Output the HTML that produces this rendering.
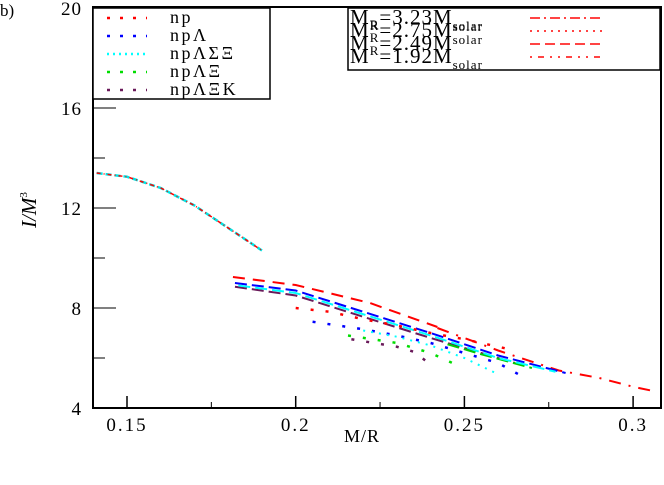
<!DOCTYPE html>
<html><head><meta charset="utf-8"><style>
body{margin:0;background:#fff}
svg{display:block;font-family:"Liberation Serif",serif}
</style></head><body>
<svg id="chart" width="664" height="485" viewBox="0 0 664 485" xmlns="http://www.w3.org/2000/svg">
<text x="0" y="16" font-size="17">b)</text>
<g id="plot"></g>
<rect x="93" y="7" width="568" height="401" fill="none" stroke="#000" stroke-width="2"/>
<g id="axes"></g>
<text x="362" y="442" font-size="18" letter-spacing="1" text-anchor="middle">M/R</text>
<text transform="translate(36,210) rotate(-90)" font-size="21" font-style="italic" text-anchor="middle">I/M<tspan font-size="11" dy="-9" font-style="normal">3</tspan></text>
<rect x="93" y="8" width="177" height="91" fill="#fff" stroke="#000" stroke-width="1.5"/>
<g id="legL"></g>
<rect x="348" y="8" width="312" height="62" fill="#fff" stroke="#000" stroke-width="1.5"/>
<g id="legR"></g>
</svg>
<script>
const NS="http://www.w3.org/2000/svg";
const xTicks=[0.15,0.2,0.25,0.3];
const xTickLabels=["0.15","0.2","0.25","0.3"];
const yTicks=[4,8,12,16,20];
const yTickLabels=["4","8","12","16","20"];
const topX=[0.141,0.15,0.16,0.17,0.18,0.19];
const topY=[13.4,13.25,12.8,12.1,11.2,10.3];
const redDashX=[0.1814,0.2,0.222,0.242];
const redDashY=[9.24,8.92,8.2,7.24];
const redDashDotX=[0.242,0.26,0.278,0.29,0.3,0.307];
const redDashDotY=[7.2,6.3,5.5,5.2,4.85,4.65];
const blueDashX=[0.182,0.2,0.22,0.24,0.26,0.28];
const blueDashY=[9.0,8.7,7.85,7.0,6.1,5.4];
const cyanDashX=[0.183,0.2,0.22,0.24,0.26,0.277];
const cyanDashY=[8.9,8.6,7.75,6.9,6.0,5.45];
const purpleDashX=[0.182,0.2,0.22,0.24,0.265];
const purpleDashY=[8.85,8.5,7.65,6.8,5.8];
const greenDashX=[0.245,0.255,0.27];
const greenDashY=[6.55,6.15,5.6];
const npX=[0.2,0.21,0.22,0.23,0.24,0.25,0.26,0.265];
const npY=[8.0,7.85,7.55,7.3,7.0,6.75,6.45,6.3];
const npLX=[0.205,0.22,0.23,0.24,0.25,0.26,0.268];
const npLY=[7.45,7.15,6.9,6.6,6.2,5.8,5.2];
const npLSXX=[0.22,0.23,0.24,0.25,0.26];
const npLSXY=[7.1,6.85,6.5,6.0,5.35];
const npLXiX=[0.2155,0.23,0.24,0.249];
const npLXiY=[6.9,6.6,6.2,5.64];
const npLXiKX=[0.2165,0.23,0.235,0.239];
const npLXiKY=[6.75,6.45,6.25,5.84];
const X=v=>127+(v-0.15)*3374;
const Y=v=>408-(v-4)*25;
const plot=document.getElementById('plot');
function line(xs,ys,color,dash,w,name){
  const p=document.createElementNS(NS,'polyline');
  p.setAttribute('points',xs.map((x,i)=>X(x)+','+Y(ys[i])).join(' '));
  p.setAttribute('fill','none');p.setAttribute('stroke',color);
  p.setAttribute('stroke-width',w);p.setAttribute('stroke-dasharray',dash);
  
  
  plot.appendChild(p);
}
line(topX,topY,'#00e5e5','6 3',2.5,'low-mass-branch-cyan');
line(topX,topY,'#f00','4 3 1 3',1.5,'low-mass-branch-red');
line(redDashX,redDashY,'#f00','12 8',2,'curve-mr-2-49-red');
line(redDashDotX,redDashDotY,'#f00','12 8 2 8',2,'curve-mr-3-23-red');
line(purpleDashX,purpleDashY,'#6a1a5a','12 5',2,'curve-nplxik');
line(greenDashX,greenDashY,'#0c0','12 5',2,'curve-nplxi');
line(blueDashX,blueDashY,'#00f','12 5',2,'curve-npl');
line(cyanDashX,cyanDashY,'#0ff','12 5',2,'curve-nplsx');
line(npX,npY,'#f00','3 12',2.5,'series-np');
line(npLX,npLY,'#00f','3 12',2.5,'series-npl');
line(npLSXX,npLSXY,'#0ff','2 6',2,'series-nplsx');
line(npLXiX,npLXiY,'#0d0','3 12',2.5,'series-nplxi');
line(npLXiKX,npLXiKY,'#6a1a5a','3 12',2.5,'series-nplxik');
const axes=document.getElementById('axes');
function mk(tag,attrs,parent){const e=document.createElementNS(NS,tag);for(const k in attrs)e.setAttribute(k,attrs[k]);parent.appendChild(e);return e;}
xTicks.forEach((v,i)=>{
  const t=mk('line',{x1:X(v),x2:X(v),y1:408,y2:396,stroke:'#000','stroke-width':1.5},axes);
  
  
  const l=mk('text',{x:X(v),y:431,'font-size':19,'letter-spacing':2,'text-anchor':'middle'},axes);
  l.textContent=xTickLabels[i];
  
  
  if(i<xTicks.length-1){const m=mk('line',{x1:X(v+0.025),x2:X(v+0.025),y1:408,y2:402,stroke:'#000','stroke-width':1},axes);
  
  }
});
yTicks.forEach((v,i)=>{
  const t=mk('line',{x1:93,x2:116,y1:Y(v),y2:Y(v),stroke:'#000','stroke-width':1},axes);
  
  
  const l=mk('text',{x:82,y:Y(v)+7,'font-size':19,'letter-spacing':1,'text-anchor':'end'},axes);
  l.textContent=yTickLabels[i];
  
  
  if(i<yTicks.length-1){const m=mk('line',{x1:93,x2:105,y1:Y(v+2),y2:Y(v+2),stroke:'#000','stroke-width':1},axes);
  
  }
});
const legL=document.getElementById('legL');
const legLNames=['np','npΛ','npΛΣΞ','npΛΞ','npΛΞK'];
const legLColors=['#f00','#00f','#0ff','#0d0','#6a1a5a'];
legLNames.forEach((n,i)=>{
  const y=18+i*18;
  const l=mk('line',{x1:107,x2:147,y1:y,y2:y,stroke:legLColors[i],'stroke-width':2.5,'stroke-dasharray':i==2?'2 4':'3 10'},legL);
  
  
  const t=mk('text',{x:170,y:y+5,'font-size':18,'letter-spacing':2.5},legL);
  t.textContent=n;
  
  
});
const legR=document.getElementById('legR');
const legRVals=['3.23','2.75','2.49','1.92'];
const legRDash=['10 4 2 4','2 5','10 5','2 6 6 6 2 6'];
legRVals.forEach((v,i)=>{
  const y=24+i*13;
  const t=mk('text',{x:350,y:y,'font-size':21,'letter-spacing':1},legR);
  const sub=(i==0);
  t.innerHTML='M<tspan font-size="13" dy="'+(sub?6:-8)+'">R</tspan><tspan dy="'+(sub?-6:8)+'">='+v+'M</tspan><tspan font-size="13" dy="'+((i==0||i==3)?6:-6)+'">solar</tspan>';
  
  
  const l=mk('line',{x1:530,x2:602,y1:y-6,y2:y-6,stroke:'#f44','stroke-width':2,'stroke-dasharray':legRDash[i]},legR);
  
  
});
</script>
</body></html>
